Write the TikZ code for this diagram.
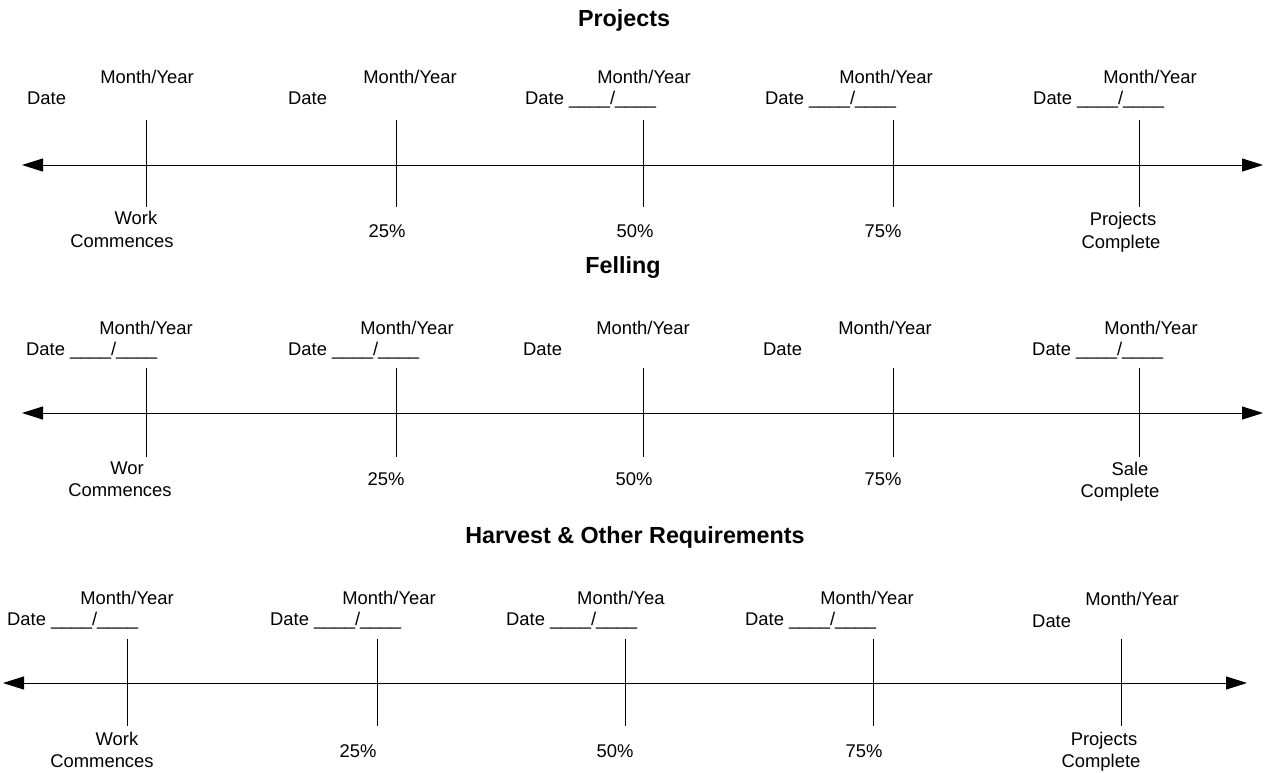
\documentclass[tikz,border=0pt]{standalone}
\usepackage{fontspec}
\setmainfont{Liberation Sans}
\usetikzlibrary{arrows.meta}

\begin{document}
\begin{tikzpicture}[x=1pt,y=-1pt,
	tl/.style={{Triangle[length=21pt,width=13pt]}-{Triangle[length=21pt,width=13pt]},line width=1pt},
	tickln/.style={line width=1pt},
	ttl/.style={anchor=base,inner sep=0pt,font=\fontsize{23.3}{28}\selectfont\bfseries},
	lbl/.style={anchor=base,inner sep=0pt},
	dt/.style={anchor=base west,inner sep=0pt}]
	\fontsize{18.4}{22}\selectfont
	\useasboundingbox (0,0) rectangle (1265,772);

	% Projects
	\node[ttl] (ttlP) at (624,26) {Projects};
	\coordinate (pL) at (22,165);
	\coordinate (pR) at (1263,165);
	\draw[tl] (pL)--(pR);
	\draw[tickln] (146,120)--(146,207) (396,120)--(396,207) (643,120)--(643,207) (893,120)--(893,207) (1139,120)--(1139,207);
	\node[lbl] (pM1) at (147,83) {Month/Year};
	\node[lbl] (pM2) at (410,83) {Month/Year};
	\node[lbl] (pM3) at (644,83) {Month/Year};
	\node[lbl] (pM4) at (886,83) {Month/Year};
	\node[lbl] (pM5) at (1150,83) {Month/Year};
	\node[dt] (pD1) at (27,104) {Date};
	\node[dt] (pD2) at (288,104) {Date};
	\node[dt] (pD3) at (525,104) {Date \_\_\_\_/\_\_\_\_};
	\node[dt] (pD4) at (765,104) {Date \_\_\_\_/\_\_\_\_};
	\node[dt] (pD5) at (1033,104) {Date \_\_\_\_/\_\_\_\_};
	\node[lbl] (pB1a) at (136,224) {Work};
	\node[lbl] (pB1b) at (122,247) {Commences};
	\node[lbl] (pB2) at (387,237) {25\%};
	\node[lbl] (pB3) at (635,237) {50\%};
	\node[lbl] (pB4) at (883,237) {75\%};
	\node[lbl] (pB5a) at (1123,225) {Projects};
	\node[lbl] (pB5b) at (1121,248) {Complete};

	% Felling
	\node[ttl] (ttlF) at (623,273) {Felling};
	\coordinate (fL) at (22,413);
	\coordinate (fR) at (1263,413);
	\draw[tl] (fL)--(fR);
	\draw[tickln] (146,368)--(146,457) (396,368)--(396,457) (643,368)--(643,457) (893,368)--(893,457) (1139,368)--(1139,457);
	\node[lbl] (fM1) at (146,334) {Month/Year};
	\node[lbl] (fM2) at (407,334) {Month/Year};
	\node[lbl] (fM3) at (643,334) {Month/Year};
	\node[lbl] (fM4) at (885,334) {Month/Year};
	\node[lbl] (fM5) at (1151,334) {Month/Year};
	\node[dt] (fD1) at (26,355) {Date \_\_\_\_/\_\_\_\_};
	\node[dt] (fD2) at (288,355) {Date \_\_\_\_/\_\_\_\_};
	\node[dt] (fD3) at (523,355) {Date};
	\node[dt] (fD4) at (763,355) {Date};
	\node[dt] (fD5) at (1032,355) {Date \_\_\_\_/\_\_\_\_};
	\node[lbl] (fB1a) at (127,474) {Wor};
	\node[lbl] (fB1b) at (120,496) {Commences};
	\node[lbl] (fB2) at (386,485) {25\%};
	\node[lbl] (fB3) at (634,485) {50\%};
	\node[lbl] (fB4) at (883,485) {75\%};
	\node[lbl] (fB5a) at (1130,475) {Sale};
	\node[lbl] (fB5b) at (1120,497) {Complete};

	% Harvest & Other Requirements
	\node[ttl] (ttlH) at (635,543) {Harvest \& Other Requirements};
	\coordinate (hL) at (3,683);
	\coordinate (hR) at (1247,683);
	\draw[tl] (hL)--(hR);
	\draw[tickln] (127,639)--(127,726) (377,639)--(377,726) (625,639)--(625,726) (873,639)--(873,726) (1121,639)--(1121,726);
	\node[lbl] (hM1) at (127,604) {Month/Year};
	\node[lbl] (hM2) at (389,604) {Month/Year};
	\node[dt] (hM3) at (577,604) {Month/Yea};
	\node[lbl] (hM4) at (867,604) {Month/Year};
	\node[lbl] (hM5) at (1132,605) {Month/Year};
	\node[dt] (hD1) at (7,625) {Date \_\_\_\_/\_\_\_\_};
	\node[dt] (hD2) at (270,625) {Date \_\_\_\_/\_\_\_\_};
	\node[dt] (hD3) at (506,625) {Date \_\_\_\_/\_\_\_\_};
	\node[dt] (hD4) at (745,625) {Date \_\_\_\_/\_\_\_\_};
	\node[dt] (hD5) at (1032,627) {Date};
	\node[lbl] (hB1a) at (117,745) {Work};
	\node[lbl] (hB1b) at (102,767) {Commences};
	\node[lbl] (hB2) at (358,757) {25\%};
	\node[lbl] (hB3) at (615,757) {50\%};
	\node[lbl] (hB4) at (864,757) {75\%};
	\node[lbl] (hB5a) at (1104,745) {Projects};
	\node[lbl] (hB5b) at (1101,767) {Complete};
\end{tikzpicture}
\end{document}
